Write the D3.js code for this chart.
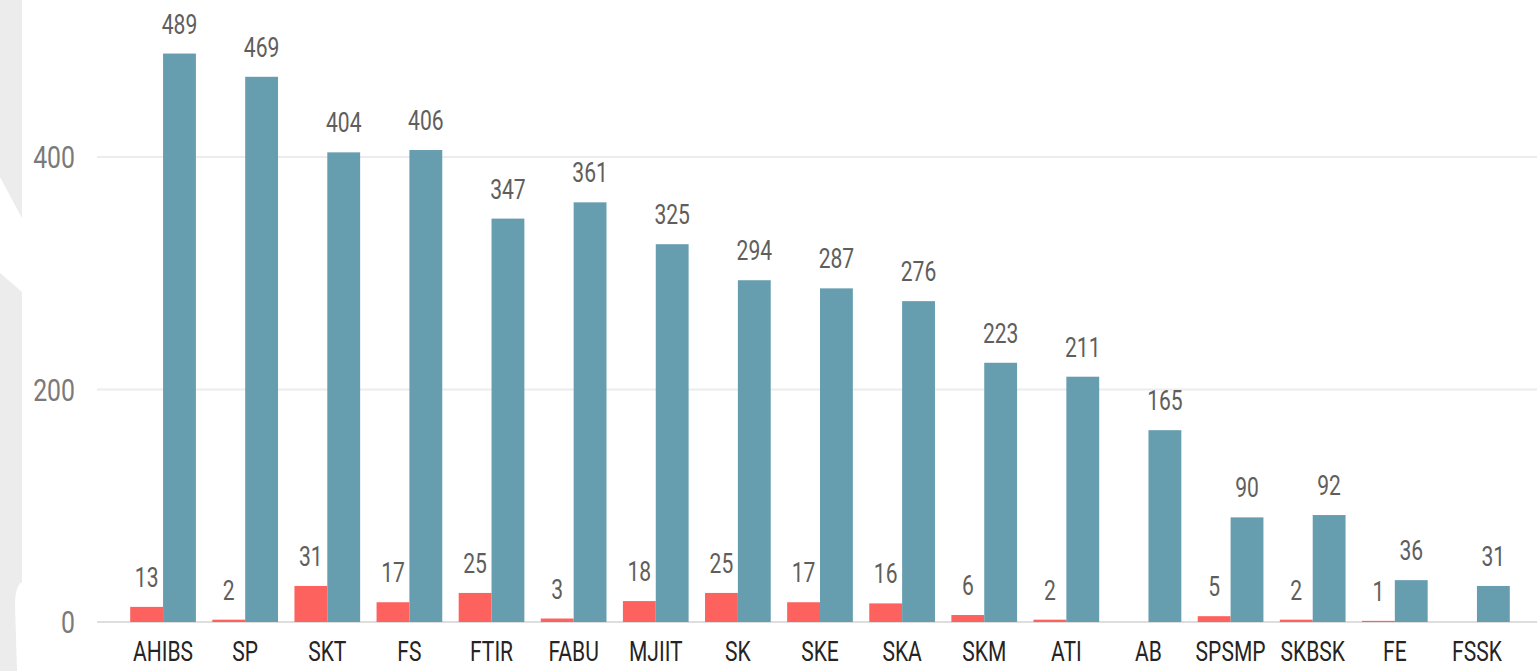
<!DOCTYPE html>
<html>
<head>
<meta charset="utf-8">
<script src="https://cdn.jsdelivr.net/npm/d3@7"></script>
<style>
  html, body { margin: 0; padding: 0; background: #fff; overflow: hidden; }
  svg { display: block; }
  text { font-family: "Roboto", "DejaVu Sans", sans-serif; }
</style>
</head>
<body>
<div id="chart"></div>
<script>
const categories = ['AHIBS', 'SP', 'SKT', 'FS', 'FTIR', 'FABU', 'MJIIT', 'SK', 'SKE', 'SKA', 'SKM', 'ATI', 'AB', 'SPSMP', 'SKBSK', 'FE', 'FSSK'];
const redValues = [13, 2, 31, 17, 25, 3, 18, 25, 17, 16, 6, 2, null, 5, 2, 1, null];
const blueValues = [489, 469, 404, 406, 347, 361, 325, 294, 287, 276, 223, 211, 165, 90, 92, 36, 31];
const yTicks = [0, 200, 400];

const W = 1537, H = 671;
const svg = d3.select('#chart').append('svg').attr('width', W).attr('height', H);

// light gray decoration down the left edge
svg.append('path')
  .attr('d', 'M0,0 L22,0 L22,218 L0,177 Z M0,273 L22,292 L22,582 Q15,586 15,605 L17,671 L0,671 Z')
  .attr('fill', '#ececec');

const x = d3.scaleBand().domain(categories).range([122, 1518]).paddingInner(0.2).paddingOuter(0.1);
const y = d3.scaleLinear().domain([0, 400]).range([622, 157]);
const sub = d3.scaleBand().domain(['red', 'blue']).range([0, x.bandwidth()]);

// condensed look: squeeze text horizontally around its anchor
const squeeze = (sel, k) => sel.attr('transform', function () {
  const tx = +this.getAttribute('data-x'), ty = +this.getAttribute('data-y');
  return `translate(${tx},${ty}) scale(${k},1)`;
});

// gridlines
svg.append('g').selectAll('line').data(yTicks).join('line')
  .attr('x1', 97).attr('x2', W)
  .attr('y1', d => y(d)).attr('y2', d => y(d))
  .attr('stroke', d => d === 0 ? '#dedede' : '#ececec')
  .attr('stroke-width', 2);

// y tick labels
svg.append('g').selectAll('text').data(yTicks).join('text')
  .attr('data-x', 75).attr('data-y', d => y(d))
  .attr('dy', '0.36em')
  .attr('text-anchor', 'end')
  .attr('font-size', 31)
  .attr('fill', '#7a7a7a')
  .text(d => d)
  .call(squeeze, 0.8);

const rows = categories.map((c, i) => ({ c, red: redValues[i], blue: blueValues[i] }));

const g = svg.append('g');
// red bars
g.selectAll('rect.red').data(rows.filter(d => d.red != null)).join('rect')
  .attr('class', 'red')
  .attr('x', d => x(d.c) + sub('red'))
  .attr('width', sub.bandwidth())
  .attr('y', d => y(d.red))
  .attr('height', d => y(0) - y(d.red))
  .attr('fill', '#fd625e');

// blue bars
g.selectAll('rect.blue').data(rows).join('rect')
  .attr('class', 'blue')
  .attr('x', d => x(d.c) + sub('blue'))
  .attr('width', sub.bandwidth())
  .attr('y', d => y(d.blue))
  .attr('height', d => y(0) - y(d.blue))
  .attr('fill', '#669eb0');

// value labels
g.selectAll('text.rl').data(rows.filter(d => d.red != null)).join('text')
  .attr('class', 'rl')
  .attr('data-x', d => x(d.c) + sub('red') + sub.bandwidth() / 2)
  .attr('data-y', d => y(d.red) - 20)
  .attr('text-anchor', 'middle')
  .attr('font-size', 27)
  .attr('fill', '#605e5c')
  .text(d => d.red)
  .call(squeeze, 0.78);

g.selectAll('text.bl').data(rows).join('text')
  .attr('class', 'bl')
  .attr('data-x', d => x(d.c) + sub('blue') + sub.bandwidth() / 2)
  .attr('data-y', d => y(d.blue) - 20)
  .attr('text-anchor', 'middle')
  .attr('font-size', 27)
  .attr('fill', '#605e5c')
  .text(d => d.blue)
  .call(squeeze, 0.78);

// category labels
svg.append('g').selectAll('text').data(categories).join('text')
  .attr('data-x', d => x(d) + x.bandwidth() / 2)
  .attr('data-y', 661)
  .attr('text-anchor', 'middle')
  .attr('font-size', 27)
  .attr('fill', '#252423')
  .text(d => d)
  .call(squeeze, 0.78);
</script>
</body>
</html>
